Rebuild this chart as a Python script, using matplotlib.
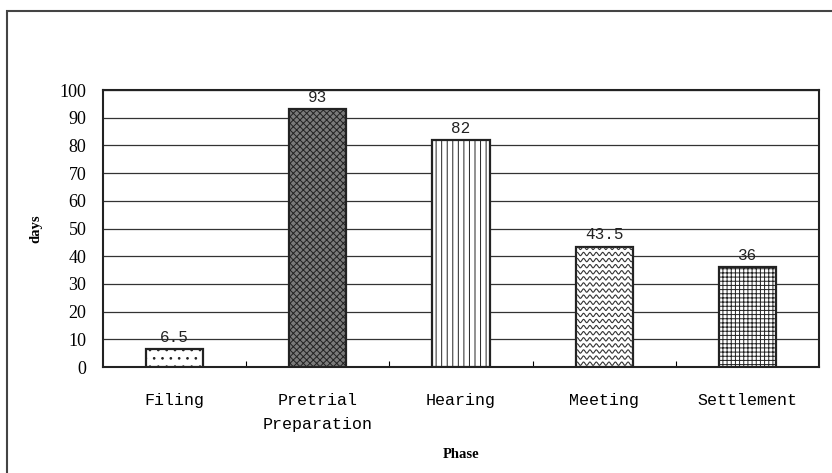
import matplotlib
matplotlib.use('Agg')
import matplotlib.pyplot as plt
import numpy as np
from matplotlib.patches import Rectangle

# ---------- data ----------
phases = ['Filing', 'Pretrial\nPreparation', 'Hearing', 'Meeting', 'Settlement']
days = [6.5, 93, 82, 43.5, 36]
value_labels = ['6.5', '93', '82', '43.5', '36']
hatches = ['..', 'xxxxx', '|||', None, '++++']
faces = ['white', '#7a7a7a', 'white', 'white', 'white']

plt.rcParams['hatch.linewidth'] = 0.7

fig = plt.figure(figsize=(8.32, 4.73), dpi=100)
ax = fig.add_axes([0.1238, 0.2241, 0.8606, 0.5856])

# outer frame of the original figure
fig.patches.append(Rectangle((7/832, -0.1), 1.0, 1 - 11/473 + 0.1, transform=fig.transFigure,
                             fill=False, edgecolor='#444444', linewidth=1.5))

x = np.arange(len(phases))
bars = []
for i in range(len(phases)):
    b = ax.bar(x[i], days[i], width=0.4, color=faces[i], edgecolor='#222222',
               hatch=hatches[i], linewidth=1.6, zorder=3)
    bars.append(b[0])

# wavy texture for the Meeting bar
mb = bars[3]
bx0, bw, bh = mb.get_x(), mb.get_width(), mb.get_height()
xs = np.linspace(bx0, bx0 + bw, 200)
for yy in np.arange(1.2, bh, 2.2):
    ys = yy + 0.6 * np.sin((xs - bx0) / bw * 2 * np.pi * 9)
    ln, = ax.plot(xs, ys, color='#333333', lw=0.8, zorder=4)
    ln.set_clip_path(mb)

# value labels
for b, lab in zip(bars, value_labels):
    ax.annotate(lab, xy=(b.get_x() + b.get_width() / 2, b.get_height()),
                xytext=(0, 3), textcoords='offset points', ha='center', va='bottom',
                fontsize=11.5, family='Liberation Mono', color='#222222')

ax.set_xlim(-0.5, len(phases) - 0.5)
ax.set_ylim(0, 100)
ax.set_yticks(np.arange(0, 101, 10))
ax.yaxis.grid(True, color='#333333', linewidth=0.9, zorder=0)
ax.set_axisbelow(True)

ax.set_xticks(x)
ax.set_xticklabels(phases, family='Liberation Mono', fontsize=12, linespacing=1.75)
ax.set_xticks(np.arange(0.5, len(phases) - 0.5, 1), minor=True)
ax.tick_params(axis='x', which='major', length=0, pad=19)
ax.tick_params(axis='x', which='minor', direction='in', length=4, width=0.8)
ax.tick_params(axis='y', length=0, pad=12)
for t in ax.get_yticklabels():
    t.set_family('Liberation Serif')
    t.set_fontsize(13)

for s in ax.spines.values():
    s.set_linewidth(1.5)
    s.set_color('#222222')

ax.set_ylabel('days', family='Liberation Serif', fontweight='bold', fontsize=10.5, labelpad=12)
ax.set_xlabel('Phase', family='Liberation Serif', fontweight='bold', fontsize=10.5, labelpad=11)

plt.savefig('out.png', dpi=100)
